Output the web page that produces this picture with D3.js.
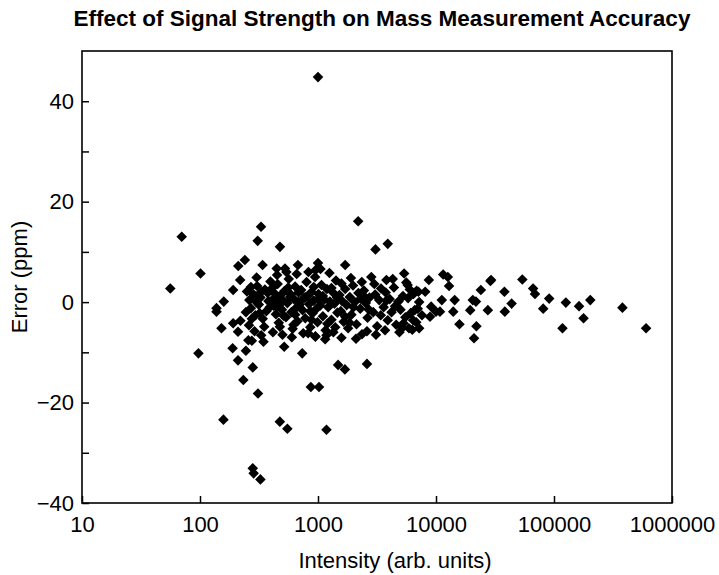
<!DOCTYPE html>
<html>
<head>
<meta charset="utf-8">
<script src="https://cdn.jsdelivr.net/npm/d3@7"></script>
<style>
  html, body { margin: 0; padding: 0; background: #fff; }
  svg { display: block; }
  text { font-family: "Liberation Sans", Arial, Helvetica, sans-serif; fill: #000; }
</style>
</head>
<body>
<svg id="chart" width="719" height="575"></svg>
<script>
// ---- Data: [intensity (arb. units), error (ppm)] ----
const sparseLow = [
  [56, 2.7], [70, 13.0], [101, 5.7], [97, -10.2], [158, -23.4], [280, -33.1], [285, -34.1], [325, -35.3],
  [475, -23.8], [550, -25.2], [1180, -25.4], [870, -16.9], [1020, -16.9], [1480, -12.5], [1690, -13.4],
  [2600, -12.3], [310, -18.2], [233, -15.5], [280, -13.0], [210, -11.6], [189, -9.2], [245, -9.7],
  [735, -10.2], [517, -8.9], [159, 0.1], [138, -1.2], [152, -5.2], [210, -5.9], [191, -4.2], [220, -3.7],
  [138, -1.9], [257, -7.6], [275, -7.7], [330, -6.6], [345, -7.9], [475, -4.9], [825, -6.2], [950, -6.9],
  [1180, -6.6], [191, 2.4], [219, 4.4], [302, 4.9]
];
const sparseHigh = [
  [1000, 44.8], [2190, 16.1], [329, 15.0], [308, 12.2], [476, 11.0], [3070, 10.5], [3900, 11.6],
  [240, 8.4], [211, 7.2], [339, 7.4], [447, 6.7], [525, 6.7], [676, 7.4], [1000, 7.8], [955, 6.4],
  [1700, 7.4], [1580, 3.7]
];
const clusterA = [
  [250, 2.1], [262, 0.4], [270, -1.2], [285, 1.5], [295, -2.6], [305, 3.2], [315, -0.5], [325, 0.9],
  [340, -3.3], [355, 2.5], [365, -1.8], [380, 0.2], [395, 4.1], [260, -4.6], [290, -5.8], [320, -2.2],
  [350, -4.9], [375, 1.8], [270, 3.0], [300, 0.0], [330, 2.0], [390, -1.0], [245, -2.0], [275, -3.3]
];
const clusterB = [
  [410, 2.8], [420, -0.7], [430, 0.9], [440, -2.4], [455, 3.6], [465, -4.1], [480, 1.3], [495, -1.5],
  [505, 0.3], [520, 2.2], [535, -3.0], [550, -0.2], [565, 4.6], [580, 1.0], [595, -2.0], [610, -5.3],
  [625, 0.6], [640, 3.1], [655, -1.1], [670, -3.8], [685, 1.9], [700, -0.5], [415, -6.0], [450, 5.4],
  [500, -6.5], [540, 6.0], [600, -7.0], [660, 5.6], [430, 1.7], [470, 0.1], [510, -2.7], [560, 2.9],
  [620, -4.5], [680, 0.0], [450, -1.0], [490, -0.1], [590, 1.5], [640, -2.5]
];
const clusterC = [
  [720, 2.4], [740, -1.6], [760, 0.8], [780, -3.2], [800, 4.0], [820, 1.2], [840, -0.4], [860, -5.0],
  [880, 2.0], [900, -2.2], [920, 0.3], [945, 5.0], [970, -1.3], [990, -4.0], [1010, 1.6], [1040, -0.7],
  [1070, 3.4], [1100, -2.8], [1130, 0.5], [1160, -5.6], [1190, 2.6], [1220, -1.0], [1260, 0.1],
  [1300, -3.5], [1340, 1.9], [1380, -0.3], [1420, 4.3], [1460, -2.1], [750, -6.2], [830, 6.0],
  [950, -6.8], [1050, 6.6], [1150, -7.4], [1250, 5.8], [1350, -6.0], [1450, 0.9], [780, 1.0],
  [860, -1.8], [1000, 0.6], [1100, 1.2], [1200, -4.3], [1300, 2.8], [1400, -5.0], [920, 3.0], [880, -3.5]
];
const clusterD = [
  [1520, 1.4], [1560, -1.8], [1600, 0.2], [1650, -3.9], [1700, 2.6], [1750, -0.6], [1800, -5.2],
  [1860, 1.0], [1920, -2.5], [1980, 3.3], [2050, 0.0], [2120, -4.4], [2200, 1.8], [2280, -1.3],
  [2360, -6.4], [2450, 2.3], [2540, -0.2], [2630, -3.1], [2730, 0.9], [2830, 5.0], [2940, -2.0],
  [3050, 1.5], [3170, -4.8], [3300, 0.4], [3420, 2.7], [1580, -7.1], [1900, 4.8], [2100, -7.3],
  [2600, -5.8], [3100, -6.5], [1700, -2.9], [2000, -1.0], [2300, 0.7], [2700, -1.5], [3000, 3.6],
  [3400, -2.6], [1850, -4.1], [2500, 1.0], [2350, 4.0], [3800, 4.4]
];
const clusterE = [
  [3600, -1.0], [3750, 1.9], [3900, -3.6], [4050, 0.6], [4200, -2.0], [4400, 2.9], [4600, -4.5],
  [4800, 0.1], [5000, -1.5], [5250, 1.2], [5500, -3.0], [5800, 0.8], [6100, -2.2], [6450, 1.6],
  [6800, -4.0], [7200, 0.0], [7600, -2.6], [3700, -5.6], [4300, 4.6], [4900, -6.0], [5600, 3.9],
  [6300, -5.5], [3800, 0.3], [4500, -0.8], [5200, -5.1], [6000, 2.5], [7000, -1.3], [5370, 5.7],
  [5750, 3.4], [6850, 2.25], [5300, -4.2], [5900, -5.2]
];
const highSignal = [
  [8700, 4.4], [11500, 5.5], [12600, 5.0], [12900, 3.2], [29300, 4.4], [24000, 2.4], [20500, 0.4],
  [53900, 4.5], [28900, 4.2], [66500, 2.7], [69000, 1.6], [91000, 0.7], [81000, -1.3], [126000, -0.1],
  [163000, -0.8], [203000, 0.4], [178000, -3.2], [118000, -5.2], [380000, -1.1], [603000, -5.2],
  [38000, 2.05], [43700, -0.3], [38300, -1.9], [21800, 0.1], [19500, -1.6], [27500, -1.6], [22000, -4.8],
  [15800, -4.4], [21000, -7.2], [14400, 0.4], [14000, -1.9], [7100, 2.05], [8100, 2.05], [11200, 0.4],
  [9100, -0.9], [10000, -1.9], [6600, -1.6], [6400, -3.6], [7200, -5.2], [8900, -2.9], [10800, -1.9]
];
const xTicks = [10, 100, 1000, 10000, 100000, 1000000];
const yTicks = [-40, -30, -20, -10, 0, 10, 20, 30, 40];
const yLabelled = [-40, -20, 0, 20, 40];
const titleText = "Effect of Signal Strength on Mass Measurement Accuracy";
const xTitle = "Intensity (arb. units)";
const yTitle = "Error (ppm)";

// ---- Layout ----
const L = 82, R = 672, T = 51, B = 503;
const svg = d3.select("#chart");

const x = d3.scaleLog().domain([10, 1000000]).range([L, R]);
const y = d3.scaleLinear().domain([-40, 50]).range([B, T]);

const points = [].concat(sparseLow, sparseHigh, clusterA, clusterB, clusterC, clusterD, clusterE, highSignal);

// frame
svg.append("rect")
  .attr("x", L).attr("y", T).attr("width", R - L).attr("height", B - T)
  .attr("fill", "none").attr("stroke", "#000").attr("stroke-width", 1.6);

// x axis
const xAxis = d3.axisBottom(x).tickValues(xTicks).tickSize(-7).tickPadding(13)
  .tickFormat(d3.format("d"));
const gx = svg.append("g").attr("transform", `translate(0,${B})`).call(xAxis);
gx.select(".domain").remove();
gx.selectAll("line").attr("stroke", "#000").attr("stroke-width", 1.5);
gx.selectAll("text").attr("font-size", 22).attr("font-family", "Liberation Sans, Arial, sans-serif");

// y axis
const yAxis = d3.axisLeft(y).tickValues(yTicks).tickSize(-7).tickPadding(8)
  .tickFormat(d => yLabelled.includes(d) ? d3.format("d")(d) : "");
const gy = svg.append("g").attr("transform", `translate(${L},0)`).call(yAxis);
gy.select(".domain").remove();
gy.selectAll("line").attr("stroke", "#000").attr("stroke-width", 1.5);
gy.selectAll("text").attr("font-size", 22).attr("font-family", "Liberation Sans, Arial, sans-serif");

// points
const diamond = d3.symbol().type(d3.symbolSquare).size(56);
svg.append("g").selectAll("path").data(points).join("path")
  .attr("d", diamond)
  .attr("transform", d => `translate(${x(d[0])},${y(d[1])}) rotate(45)`)
  .attr("fill", "#000");

// titles
svg.append("text").attr("x", 382).attr("y", 26).attr("text-anchor", "middle")
  .attr("font-size", 22.5).attr("font-weight", "bold").text(titleText);
svg.append("text").attr("x", 395).attr("y", 568).attr("text-anchor", "middle")
  .attr("font-size", 22).text(xTitle);
svg.append("text").attr("transform", `translate(27,${(T + B) / 2}) rotate(-90)`)
  .attr("text-anchor", "middle").attr("font-size", 22).text(yTitle);
</script>
</body>
</html>
